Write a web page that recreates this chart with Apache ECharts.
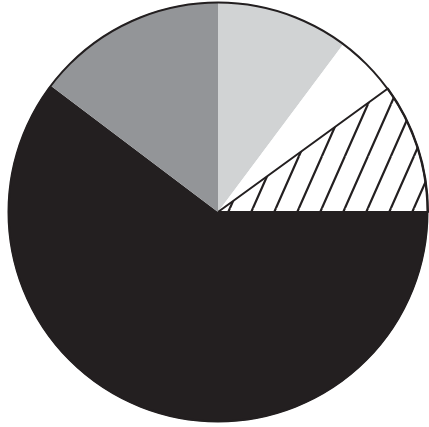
<!DOCTYPE html>
<html>
<head>
<meta charset="utf-8">
<script src="https://cdn.jsdelivr.net/npm/echarts@6/dist/echarts.min.js"></script>
<style>html,body{margin:0;padding:0;background:#fff;}#c{width:429px;height:427px;}</style>
</head>
<body>
<div id="c"></div>
<script>
var categories = ['A', 'B', 'C', 'D', 'E'];
var values = [10.2, 4.8, 10, 60.3, 14.7];

// hatch pattern tile
var tile = document.createElement('canvas');
tile.width = 23; tile.height = 52;
var g = tile.getContext('2d');
g.fillStyle = '#ffffff';
g.fillRect(0, 0, 23, 52);
g.strokeStyle = '#231f20';
g.lineWidth = 2.2;
g.beginPath();
g.moveTo(-23, 104); g.lineTo(23, 0);
g.moveTo(0, 52); g.lineTo(23, 0);
g.moveTo(0, 104); g.lineTo(46, 0);
g.moveTo(-23, 52); g.lineTo(0, 0);
g.moveTo(23, 52); g.lineTo(46, 0);
g.stroke();

var styles = [
  {color: '#d1d3d4', borderWidth: 0},
  {color: '#ffffff', borderWidth: 0},
  {color: {image: tile, repeat: 'repeat'}, borderColor: '#231f20', borderWidth: 2},
  {color: '#231f20', borderWidth: 0},
  {color: '#939598', borderWidth: 0}
];

var data = categories.map(function (c, i) {
  return {name: c, value: values[i], itemStyle: styles[i]};
});

var chart = echarts.init(document.getElementById('c'), null, {renderer: 'canvas'});
chart.setOption({
  animation: false,
  backgroundColor: '#ffffff',
  series: [{
    type: 'pie',
    center: [218, 212],
    radius: 210,
    startAngle: 90,
    clockwise: true,
    label: {show: false},
    labelLine: {show: false},
    emphasis: {disabled: true},
    data: data
  }],
  graphic: [{
    type: 'circle',
    shape: {cx: 218, cy: 212, r: 209.5},
    style: {fill: 'none', stroke: '#231f20', lineWidth: 2},
    z: 100
  }]
});
</script>
</body>
</html>
